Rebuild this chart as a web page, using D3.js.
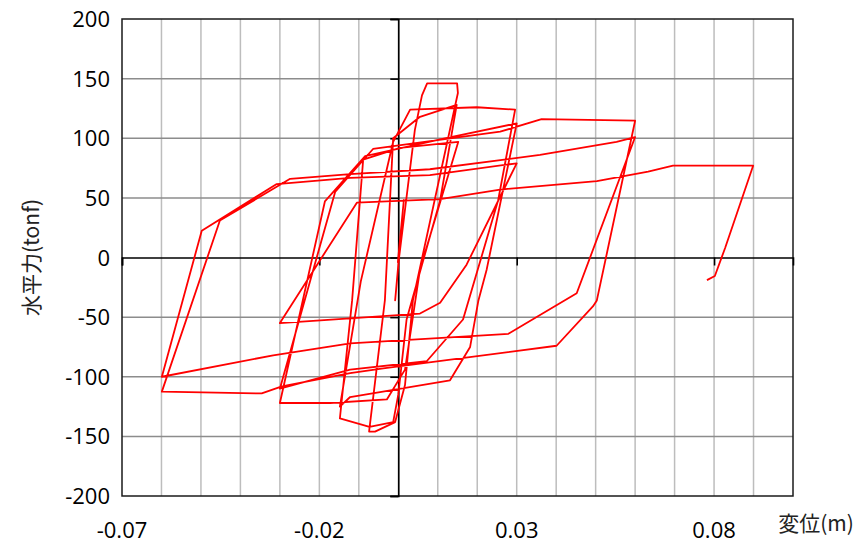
<html>
<head>
<meta charset="utf-8">
<script src="https://d3js.org/d3.v7.min.js"></script>
<style>
body { margin: 0; background: #fff; }
svg { display: block; background: #fff; }
.tick-label { font-family: "Open Sans", "Noto Sans", sans-serif; font-size: 22px; fill: #000; }
.axis-title { font-family: "Noto Sans CJK JP", "Noto Sans", sans-serif; font-size: 21px; fill: #222; }
</style>
</head>
<body>
<svg id="chart" width="861" height="544"></svg>
<script>
// displacement (m) and horizontal force (tonf) in drawing order
var disp = [
  0.0000, 0.0014, -0.0001, 0.0009, -0.0008, 0.0002,
  0.0042, 0.0060, 0.0073, 0.0149, 0.0151,
  0.0037, 0.0017, -0.0008, -0.0059, -0.0074,
  -0.0034, -0.0013, 0.0055, 0.0148,
  0.0106, 0.0021, 0.0000, -0.0013, -0.0073, -0.0148,
  -0.0117, -0.0089, 0.0004, 0.0152,
  0.0055, 0.0017, -0.0029, -0.0173, -0.0300,
  -0.0186, -0.0084, 0.0106, 0.0300,
  0.0224, 0.0203, 0.0182, 0.0131, -0.0122, -0.0148,
  -0.0095, -0.0013, 0.0030, 0.0199, 0.0296,
  0.0253, 0.0164, 0.0072, -0.0122, -0.0300,
  -0.0160, -0.0064, 0.0258, 0.0363, 0.0600,
  0.0503, 0.0493, 0.0401, -0.0038, -0.0122, -0.0295, -0.0346, -0.0599,
  -0.0452, -0.0274, -0.0122, 0.0080, 0.0359, 0.0553, 0.0600,
  0.0452, 0.0279, -0.0122, -0.0317, -0.0599,
  -0.0498, -0.0308, -0.0122, 0.0080, 0.0300,
  0.0173, 0.0106, 0.0055, -0.0300,
  -0.0105, 0.0106, 0.0258, 0.0503, 0.0633, 0.0696, 0.0899,
  0.0828, 0.0802, 0.0782
];
var force = [
  0, 48, -4, 27, -36, 0,
  107, 136, 146, 146, 138,
  -36, -107, -138, -146, -146,
  -36, 100, 118, 128,
  48, -52, -115, -138, -142, -135,
  -36, 82, 92, 97,
  -10, -94, -119, -122, -122,
  47, 85, 99, 112.5,
  -10, -36, -75, -103, -117, -125,
  -20, 97, 124, 126, 124,
  48, -52, -87, -94, -110,
  55, 91, 105.5, 116, 114.7,
  -36, -41, -74, -93, -97, -108, -114, -112.5,
  31, 66, 70, 74, 86, 97, 101,
  -30, -64, -72, -82, -100,
  22.5, 61.6, 66.7, 69, 79,
  -6, -38, -47, -55,
  46, 49, 57, 64, 72, 77, 77,
  8, -15.5, -19
];

var xTicks = [-0.07, -0.02, 0.03, 0.08];
var xTickLabels = ["-0.07", "-0.02", "0.03", "0.08"];
var yTicks = [-200, -150, -100, -50, 0, 50, 100, 150, 200];
var xTitle = "変位(m)";
var yTitle = "水平力(tonf)";

var W = 861, H = 544;
var margin = {left: 122, right: 68, top: 19, bottom: 48};

var svg = d3.select("#chart");
var x = d3.scaleLinear().domain([-0.07, 0.10]).range([margin.left, W - margin.right]);
var y = d3.scaleLinear().domain([-200, 200]).range([H - margin.bottom, margin.top]);

// vertical grid every 0.01
var xGrid = d3.range(-6, 10).map(function(i){ return i / 100; });
svg.append("g").selectAll("line")
  .data(xGrid).enter().append("line")
  .attr("x1", d => x(d)).attr("x2", d => x(d))
  .attr("y1", y(200)).attr("y2", y(-200))
  .attr("stroke", "#bdbdbd").attr("stroke-width", 1.5);

// horizontal grid
svg.append("g").selectAll("line")
  .data(yTicks.filter(d => d != 0 && Math.abs(d) != 200)).enter().append("line")
  .attr("x1", x(-0.07)).attr("x2", x(0.10))
  .attr("y1", d => y(d)).attr("y2", d => y(d))
  .attr("stroke", "#8c8c8c").attr("stroke-width", 1.5);

// plot frame
svg.append("rect")
  .attr("x", x(-0.07)).attr("y", y(200))
  .attr("width", x(0.10) - x(-0.07)).attr("height", y(-200) - y(200))
  .attr("fill", "none").attr("stroke", "#1a1a1a").attr("stroke-width", 1.5);

// axes through zero
var xAxis = d3.axisBottom(x).tickValues(xTicks).tickSize(8).tickFormat("");
svg.append("g")
  .attr("transform", "translate(0," + y(0) + ")")
  .call(xAxis)
  .call(g => g.selectAll("line, path").attr("stroke", "#000").attr("stroke-width", 1.6));

var yAxis = d3.axisLeft(y).tickValues(yTicks).tickSize(8).tickFormat("");
svg.append("g")
  .attr("transform", "translate(" + x(0) + ",0)")
  .call(yAxis)
  .call(g => g.selectAll("line, path").attr("stroke", "#000").attr("stroke-width", 1.6));

// tick labels at the frame
svg.append("g").selectAll("text")
  .data(yTicks).enter().append("text")
  .attr("class", "tick-label")
  .attr("x", margin.left - 12)
  .attr("y", d => y(d) + 8)
  .attr("text-anchor", "end")
  .text(d => d);

svg.append("g").selectAll("text")
  .data(xTicks).enter().append("text")
  .attr("class", "tick-label")
  .attr("x", d => x(d))
  .attr("y", y(-200) + 42)
  .attr("text-anchor", "middle")
  .text((d, i) => xTickLabels[i]);

// hysteresis curve
var pts = disp.map(function(d, i){ return [d, force[i]]; });
var line = d3.line().x(d => x(d[0])).y(d => y(d[1]));
svg.append("path")
  .datum(pts)
  .attr("d", line)
  .attr("fill", "none")
  .attr("stroke", "#ff0000")
  .attr("stroke-width", 1.8)
  .attr("stroke-linejoin", "round");

// axis titles
svg.append("text")
  .attr("class", "axis-title")
  .attr("x", 816).attr("y", 531)
  .attr("text-anchor", "middle")
  .text(xTitle);

svg.append("text")
  .attr("class", "axis-title")
  .attr("transform", "translate(39," + y(0) + ") rotate(-90)")
  .attr("text-anchor", "middle")
  .text(yTitle);
</script>
</body>
</html>
